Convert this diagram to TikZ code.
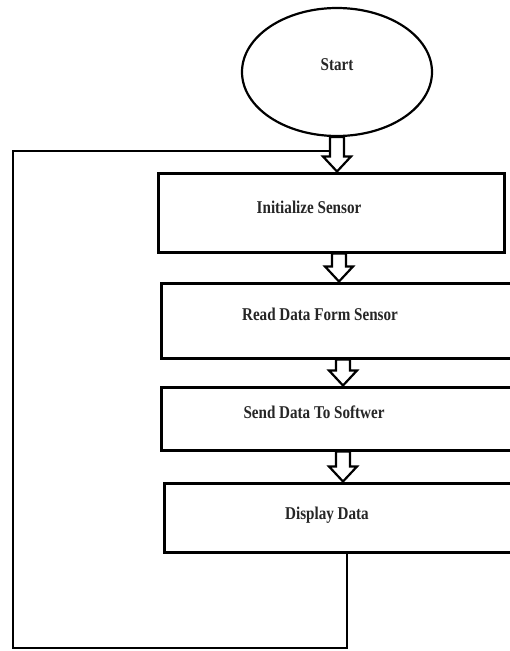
\documentclass[tikz,border=0pt]{standalone}
\usepackage{fontspec}
\setmainfont{Liberation Serif}[FakeStretch=0.84]
\usetikzlibrary{shapes.geometric,calc}
\tikzset{
  box/.style={draw, line width=3pt, rectangle, inner sep=0pt},
  startnode/.style={draw, line width=2.2pt, ellipse, inner sep=0pt, minimum width=190pt, minimum height=128pt},
  lbl/.style={font=\fontsize{18}{20}\selectfont\bfseries, text=black!85},
  harrow/.style={draw, line width=2.2pt, fill=white, line join=miter},
  loopline/.style={draw, line width=1.8pt}
}
\newcommand\harrow[3]{%
  \draw[harrow] let \p1=(#1.south), \p2=(#2.north) in
    (\x1+#3-7pt,\y1) -- (\x1+#3-7pt,\y2+15pt) -- (\x1+#3-14pt,\y2+15pt) --
    (\x1+#3,\y2) -- (\x1+#3+14pt,\y2+15pt) -- (\x1+#3+7pt,\y2+15pt) --
    (\x1+#3+7pt,\y1) -- cycle;}
\begin{document}
\begin{tikzpicture}[x=1pt,y=-1pt]
\useasboundingbox (0,0) rectangle (510,651);
\fill[white] (0,0) rectangle (510,651);
\node[startnode, label={[lbl,yshift=7pt]center:Start}] (s) at (337,72) {};
\node[box, minimum width=346pt, minimum height=79pt,
  label={[lbl,xshift=-22pt,yshift=5pt]center:Initialize Sensor}] (b1) at (331,212.5) {};
\node[box, minimum width=356pt, minimum height=75pt,
  label={[lbl,xshift=-19pt,yshift=6pt]center:Read Data Form Sensor}] (b2) at (339,320.5) {};
\node[box, minimum width=356pt, minimum height=63pt,
  label={[lbl,xshift=-25pt,yshift=6pt]center:Send Data To Softwer}] (b3) at (339,418.5) {};
\node[box, minimum width=352pt, minimum height=69pt,
  label={[lbl,xshift=-13pt,yshift=2pt]center:Display Data}] (b4) at (340,517.5) {};
\coordinate (dx) at (347,0);
\coordinate (bl) at (13,648);
\coordinate (tl) at (330,151);
\draw[loopline] (b4.south -| dx) |- (bl) |- (tl);
\harrow{s}{b1}{0pt}
\harrow{b1}{b2}{8pt}
\harrow{b2}{b3}{4pt}
\harrow{b3}{b4}{4pt}
\end{tikzpicture}
\end{document}
